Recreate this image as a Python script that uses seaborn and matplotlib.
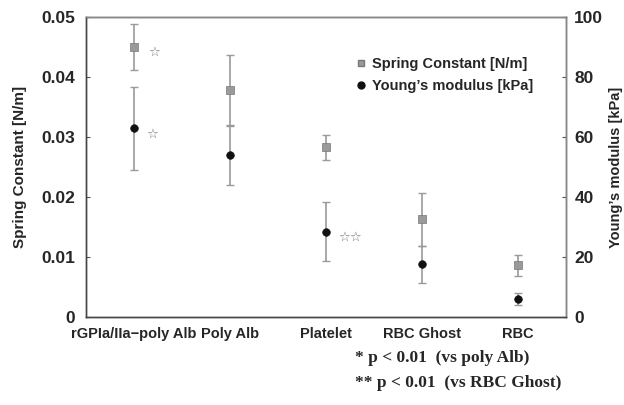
import numpy as np
import pandas as pd
import matplotlib
matplotlib.use("Agg")
import matplotlib.pyplot as plt
import seaborn as sns
from matplotlib.lines import Line2D

# data
categories = ["rGPIa/IIa\u2212poly Alb", "Poly Alb", "Platelet", "RBC Ghost", "RBC"]
spring = [0.0450, 0.0378, 0.0283, 0.0163, 0.0086]
spring_err = [0.0038, 0.0059, 0.0021, 0.0044, 0.0017]
young = [62.9, 54.0, 28.4, 17.6, 5.9]
young_err = [13.9, 9.9, 9.8, 6.1, 2.0]
spring_marks = ["\u2606", "", "", "", ""]
young_marks = ["\u2606", "", "\u2606\u2606", "", ""]

ds = pd.DataFrame({"cat": categories, "spring": spring, "spring_err": spring_err,
                   "young": young, "young_err": young_err})
xpos = np.arange(len(categories))

sns.set_style("ticks")
plt.rcParams["font.family"] = ["Liberation Sans", "DejaVu Sans"]

fig = plt.figure(figsize=(6.24, 4.05), dpi=100)
ax = fig.add_axes([0.1378, 0.217, 0.7692, 0.741])
ax2 = ax.twinx()

grey = "#9a9a9a"

# spring constant (left axis)
ax.errorbar(xpos, ds["spring"], yerr=ds["spring_err"], fmt="none",
            ecolor=grey, elinewidth=1.2, capsize=3, capthick=1.0, zorder=2)
sns.scatterplot(x=xpos, y=ds["spring"], ax=ax, marker="s", s=30, color=grey,
                edgecolor="#777777", linewidth=0.5, zorder=3)

# young's modulus (right axis)
ax2.errorbar(xpos, ds["young"], yerr=ds["young_err"], fmt="none",
             ecolor=grey, elinewidth=1.2, capsize=3, capthick=1.0, zorder=2)
sns.scatterplot(x=xpos, y=ds["young"], ax=ax2, marker="o", s=30, color="#111111",
                edgecolor="#111111", linewidth=0.5, zorder=3)

# significance marks
for i, m in enumerate(spring_marks):
    if m:
        ax.annotate(m, (xpos[i], spring[i]), xytext=(10, -4), textcoords="offset points",
                    color="#777777", fontsize=9.5, family="DejaVu Sans", va="center")
for i, m in enumerate(young_marks):
    if m:
        ax2.annotate(m, (xpos[i], young[i]), xytext=(9, -4), textcoords="offset points",
                     color="#777777", fontsize=9.5, family="DejaVu Sans", va="center")

ax.set_xlim(-0.5, 4.5)
ax.set_ylim(0, 0.05)
ax2.set_ylim(0, 100)
ax.set_yticks([0, 0.01, 0.02, 0.03, 0.04, 0.05])
ax.set_yticklabels(["0", "0.01", "0.02", "0.03", "0.04", "0.05"])
ax2.set_yticks([0, 20, 40, 60, 80, 100])
ax.set_xticks(xpos)
ax.set_xticklabels(categories, fontweight="bold")
for t in ax.get_yticklabels() + ax2.get_yticklabels():
    t.set_fontweight("bold")

ax.tick_params(axis="x", length=0, pad=7, labelsize=10.5)
ax.tick_params(axis="y", direction="in", length=3, labelsize=12.5, pad=8, color="#555555")
ax2.tick_params(axis="y", direction="in", length=3, labelsize=12.5, pad=6, color="#555555")

for a in (ax, ax2):
    for sp in a.spines.values():
        sp.set_color("#444444")
        sp.set_linewidth(1.0)
ax2.spines["top"].set_color("#888888")
ax2.spines["right"].set_color("#888888")

ax.set_ylabel("Spring Constant [N/m]", fontsize=11, fontweight="bold", labelpad=10)
ax2.set_ylabel("Young\u2019s modulus [kPa]", fontsize=10.5, fontweight="bold", labelpad=4)

handles = [
    Line2D([], [], marker="s", color=grey, markeredgecolor="#777777", linestyle="none", markersize=5),
    Line2D([], [], marker="o", color="#111111", linestyle="none", markersize=5),
]
ax2.legend(handles, ["Spring Constant [N/m]", "Young\u2019s modulus [kPa]"],
           loc="upper left", bbox_to_anchor=(0.53, 0.91), frameon=False,
           prop={"size": 10.5, "weight": "bold"}, handletextpad=0.3,
           labelspacing=0.55, handlelength=1.0)

fig.text(0.569, 0.115, "* p < 0.01  (vs poly Alb)", family="Liberation Serif",
         fontsize=12.5, fontweight="bold", va="center")
fig.text(0.569, 0.055, "** p < 0.01  (vs RBC Ghost)", family="Liberation Serif",
         fontsize=12.5, fontweight="bold", va="center")

fig.savefig("out.png", dpi=100)
